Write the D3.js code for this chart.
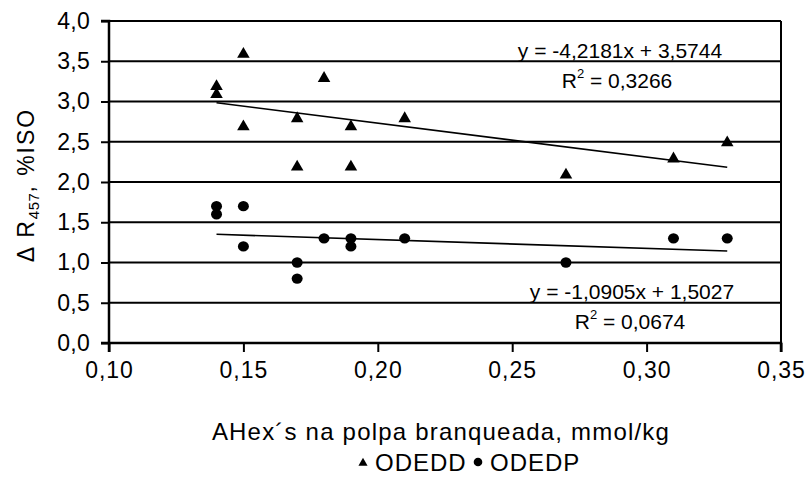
<!DOCTYPE html>
<html>
<head>
<meta charset="utf-8">
<script src="https://cdn.jsdelivr.net/npm/d3@7"></script>
<style>
  html, body { margin: 0; padding: 0; background: #fff; }
  svg { display: block; font-family: "Liberation Sans", Arial, sans-serif; }
</style>
</head>
<body>
<svg id="chart" width="811" height="479"></svg>
<script>
// ---- data ----
const seriesNames = ["ODEDD", "ODEDP"];
const odeddX = [0.14, 0.14, 0.15, 0.15, 0.17, 0.17, 0.18, 0.19, 0.19, 0.21, 0.27, 0.31, 0.33];
const odeddY = [3.2, 3.1, 3.6, 2.7, 2.8, 2.2, 3.3, 2.7, 2.2, 2.8, 2.1, 2.3, 2.5];
const odedpX = [0.14, 0.14, 0.15, 0.15, 0.17, 0.17, 0.18, 0.19, 0.19, 0.21, 0.27, 0.31, 0.33];
const odedpY = [1.7, 1.6, 1.7, 1.2, 1.0, 0.8, 1.3, 1.3, 1.2, 1.3, 1.0, 1.3, 1.3];
const trendSlope = [-4.2181, -1.0905];
const trendIntercept = [3.5744, 1.5027];
const trendR2 = ["0,3266", "0,0674"];
const trendEq = ["y = -4,2181x + 3,5744", "y = -1,0905x + 1,5027"];
const xTicks = [0.10, 0.15, 0.20, 0.25, 0.30, 0.35];
const yTicks = [0, 0.5, 1.0, 1.5, 2.0, 2.5, 3.0, 3.5, 4.0];
const xTitle = "AHex´s na polpa branqueada, mmol/kg";

// ---- layout ----
const svg = d3.select("#chart");
const L = 109, R = 781, T = 21, B = 343;
const x = d3.scaleLinear().domain([0.10, 0.35]).range([L, R]);
const y = d3.scaleLinear().domain([0, 4]).range([B, T]);
const comma = f => d => d3.format(f)(d).replace(".", ",");

// gridlines
svg.append("g").selectAll("line").data(yTicks.filter(d => d > 0)).join("line")
  .attr("x1", L).attr("x2", R).attr("y1", d => y(d)).attr("y2", d => y(d))
  .attr("stroke", "#000").attr("stroke-width", 2);
// right border
svg.append("line").attr("x1", R).attr("x2", R).attr("y1", T).attr("y2", B)
  .attr("stroke", "#000").attr("stroke-width", 2);

// axes
const yAxis = svg.append("g").attr("transform", `translate(${L},0)`)
  .call(d3.axisLeft(y).tickValues(yTicks).tickFormat(comma(".1f")).tickSize(8).tickPadding(11));
const xAxis = svg.append("g").attr("transform", `translate(0,${B})`)
  .call(d3.axisBottom(x).tickValues(xTicks).tickFormat(comma(".2f")).tickSize(9).tickPadding(10));
[yAxis, xAxis].forEach(g => {
  g.select(".domain").attr("stroke", "#000").attr("stroke-width", 2.5);
  g.selectAll(".tick line").attr("stroke", "#000").attr("stroke-width", 2);
  g.selectAll(".tick text").attr("fill", "#000")
    .style("font-family", "'Liberation Sans', Arial, sans-serif");
});
yAxis.selectAll(".tick text").style("font-size", "23px").style("letter-spacing", "0.3px");
xAxis.selectAll(".tick text").style("font-size", "23px").style("letter-spacing", "1px");
xAxis.select(".domain").attr("d", `M${L},9V0H${R}V9`);
yAxis.select(".domain").attr("d", `M-8,${T}H0V${B}H-8`);

// trend lines
const trendX = [d3.min(odeddX), d3.max(odeddX)];
[0, 1].forEach(i => {
  svg.append("line")
    .attr("x1", x(trendX[0])).attr("y1", y(trendSlope[i] * trendX[0] + trendIntercept[i]))
    .attr("x2", x(trendX[1])).attr("y2", y(trendSlope[i] * trendX[1] + trendIntercept[i]))
    .attr("stroke", "#000").attr("stroke-width", 1.6);
});

// points
const tri = d3.symbol().type(d3.symbolTriangle).size(68);
svg.append("g").selectAll("path").data(odeddX.map((d, i) => [d, odeddY[i]])).join("path")
  .attr("d", tri).attr("transform", d => `translate(${x(d[0])},${y(d[1]) + 1})`).attr("fill", "#000");
svg.append("g").selectAll("ellipse").data(odedpX.map((d, i) => [d, odedpY[i]])).join("ellipse")
  .attr("cx", d => x(d[0])).attr("cy", d => y(d[1])).attr("rx", 5.5).attr("ry", 5.2).attr("fill", "#000");

// equations
const eqPos = [[620, 58, 617, 88], [632, 299, 630, 329]];
[0, 1].forEach(i => {
  const p = eqPos[i];
  svg.append("text").attr("x", p[0]).attr("y", p[1]).attr("text-anchor", "middle")
    .style("font-size", "21px").text(trendEq[i]);
  const t = svg.append("text").attr("x", p[2]).attr("y", p[3]).attr("text-anchor", "middle")
    .style("font-size", "21px");
  t.append("tspan").text("R");
  t.append("tspan").attr("dy", -10).style("font-size", "13px").text("2");
  t.append("tspan").attr("dy", 10).text(" = " + trendR2[i]);
});

// y title
const yt = svg.append("text").attr("transform", "translate(34,185) rotate(-90)")
  .attr("text-anchor", "middle").style("font-size", "23px").style("letter-spacing", "2px");
yt.append("tspan").text("Δ R");
yt.append("tspan").attr("dy", 5).style("font-size", "15px").style("letter-spacing", "0.5px").text("457");
yt.append("tspan").attr("dy", -5).text(", %ISO");

// x title
svg.append("text").attr("x", 441).attr("y", 440).attr("text-anchor", "middle")
  .style("font-size", "24px").style("letter-spacing", "1.2px").text(xTitle);

// legend
const lg = svg.append("g");
lg.append("path").attr("d", d3.symbol().type(d3.symbolTriangle).size(36))
  .attr("transform", "translate(363,463)").attr("fill", "#000");
lg.append("text").attr("x", 375).attr("y", 471).style("font-size", "24px")
  .style("letter-spacing", "1px").text(seriesNames[0]);
lg.append("circle").attr("cx", 478).attr("cy", 462).attr("r", 4.3).attr("fill", "#000");
lg.append("text").attr("x", 490).attr("y", 471).style("font-size", "24px")
  .style("letter-spacing", "1px").text(seriesNames[1]);
</script>
</body>
</html>
